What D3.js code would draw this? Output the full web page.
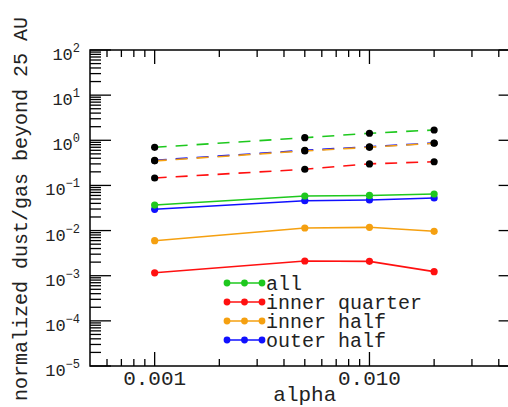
<!DOCTYPE html>
<html><head><meta charset="utf-8">
<script src="https://cdn.jsdelivr.net/npm/d3@7"></script>
<style>body{margin:0;background:#fff}svg{display:block}</style>
</head><body>
<svg id="c" width="508" height="407"></svg>
<script>
const alpha = [0.001, 0.005, 0.01, 0.02];
const seriesNames = ["all", "inner quarter", "inner half", "outer half"];
const seriesColors = ["#1ec81e", "#ff1010", "#f5a010", "#1010ff"];
const solidAll = [0.0368, 0.0583, 0.060, 0.0646];
const solidInnerQuarter = [0.00116, 0.00212, 0.00208, 0.00123];
const solidInnerHalf = [0.00596, 0.0114, 0.0118, 0.00964];
const solidOuterHalf = [0.0296, 0.0459, 0.0475, 0.0526];
const dashedAll = [0.70, 1.14, 1.43, 1.69];
const dashedInnerQuarter = [0.146, 0.228, 0.30, 0.335];
const dashedInnerHalf = [0.35, 0.58, 0.70, 0.86];
const dashedOuterHalf = [0.36, 0.60, 0.72, 0.87];
const yTickExps = [2, 1, 0, -1, -2, -3, -4, -5];
const xTickLabels = ["0.001", "0.010"];
const xTickVals = [0.001, 0.01];

const svg = d3.select("#c");
const L = 90, R = 519.6, T = 50, B = 366;
const x = d3.scaleLog().domain([0.0005, 0.05]).range([L, R]);
const y = d3.scaleLog().domain([1e-5, 1e2]).range([B, T]);
const font = "'Liberation Mono', 'Courier New', monospace";
const tc = "#222";

const g = svg.append("g");
const yMinor = [];
for (let e = -5; e < 2; e++) for (let m = 2; m <= 9; m++) yMinor.push(m * Math.pow(10, e));
const yMajor = yTickExps.map(e => Math.pow(10, e));
const xMinor = [];
for (let e = -4; e < -1; e++) for (let m = 1; m <= 9; m++) {
  const v = m * Math.pow(10, e);
  if (v > 0.0005 && v < 0.05 && m !== 1) xMinor.push(v);
}
const tickG = g.append("g").attr("stroke", "#000").attr("stroke-width", 1.3);
yMinor.forEach(v => {
  tickG.append("line").attr("x1", L).attr("x2", L + 11).attr("y1", y(v)).attr("y2", y(v));
  tickG.append("line").attr("x1", R).attr("x2", R - 11).attr("y1", y(v)).attr("y2", y(v));
});
yMajor.forEach(v => {
  tickG.append("line").attr("x1", L).attr("x2", L + 21).attr("y1", y(v)).attr("y2", y(v));
  tickG.append("line").attr("x1", R).attr("x2", R - 21).attr("y1", y(v)).attr("y2", y(v));
});
xMinor.forEach(v => {
  tickG.append("line").attr("x1", x(v)).attr("x2", x(v)).attr("y1", B).attr("y2", B - 7);
  tickG.append("line").attr("x1", x(v)).attr("x2", x(v)).attr("y1", T).attr("y2", T + 7);
});
xTickVals.forEach(v => {
  tickG.append("line").attr("x1", x(v)).attr("x2", x(v)).attr("y1", B).attr("y2", B - 14);
  tickG.append("line").attr("x1", x(v)).attr("x2", x(v)).attr("y1", T).attr("y2", T + 14);
});
g.append("rect").attr("x", L).attr("y", T).attr("width", R - L).attr("height", B - T)
  .attr("fill", "none").attr("stroke", "#000").attr("stroke-width", 1.5);

yTickExps.forEach(e => {
  const t = g.append("text").attr("x", 80).attr("y", y(Math.pow(10, e)) + 10)
    .attr("text-anchor", "end").attr("font-family", font).attr("font-size", 17).attr("fill", tc);
  t.append("tspan").text("10");
  t.append("tspan").attr("dy", -8).attr("font-size", 12).text(String(e).replace("-", "\u2212"));
});
xTickVals.forEach((v, i) => {
  g.append("text").attr("x", x(v)).attr("y", 385).attr("text-anchor", "middle")
    .attr("font-family", font).attr("font-size", 21).attr("fill", tc).text(xTickLabels[i]);
});
g.append("text").attr("x", (L + R) / 2).attr("y", 401).attr("text-anchor", "middle")
  .attr("font-family", font).attr("font-size", 21).attr("fill", tc).text("alpha");
g.append("text").attr("transform", `translate(27,${(T + B) / 2 + 1}) rotate(-90)`).attr("text-anchor", "middle")
  .attr("font-family", font).attr("font-size", 20).attr("fill", tc).text("normalized dust/gas beyond 25 AU");

const line = d3.line().x((d, i) => x(alpha[i])).y(d => y(d));
const dashed = [dashedAll, dashedInnerQuarter, dashedOuterHalf, dashedInnerHalf];
const dashedCol = [seriesColors[0], seriesColors[1], seriesColors[3], seriesColors[2]];
const solid = [solidInnerQuarter, solidInnerHalf, solidOuterHalf, solidAll];
const solidCol = [seriesColors[1], seriesColors[2], seriesColors[3], seriesColors[0]];

dashed.forEach((s, k) => {
  g.append("path").datum(s).attr("d", line).attr("fill", "none").attr("stroke", dashedCol[k])
    .attr("stroke-width", 1.6).attr("stroke-dasharray", "12,9");
  s.forEach((d, i) => g.append("circle").attr("cx", x(alpha[i])).attr("cy", y(d)).attr("r", 3.6).attr("fill", "#000"));
});
solid.forEach((s, k) => {
  g.append("path").datum(s).attr("d", line).attr("fill", "none").attr("stroke", solidCol[k]).attr("stroke-width", 1.6);
  s.forEach((d, i) => g.append("circle").attr("cx", x(alpha[i])).attr("cy", y(d)).attr("r", 3.6).attr("fill", solidCol[k]));
});

const legY = [283, 302, 321, 340];
seriesNames.forEach((n, i) => {
  const c = seriesColors[i];
  g.append("line").attr("x1", 227).attr("x2", 262).attr("y1", legY[i]).attr("y2", legY[i]).attr("stroke", c).attr("stroke-width", 1.6);
  [227, 244.5, 262].forEach(cx => g.append("circle").attr("cx", cx).attr("cy", legY[i]).attr("r", 3.4).attr("fill", c));
  g.append("text").attr("x", 266).attr("y", legY[i] + 7).attr("font-family", font).attr("font-size", 20)
    .attr("fill", tc).text(n);
});
</script>
</body></html>
